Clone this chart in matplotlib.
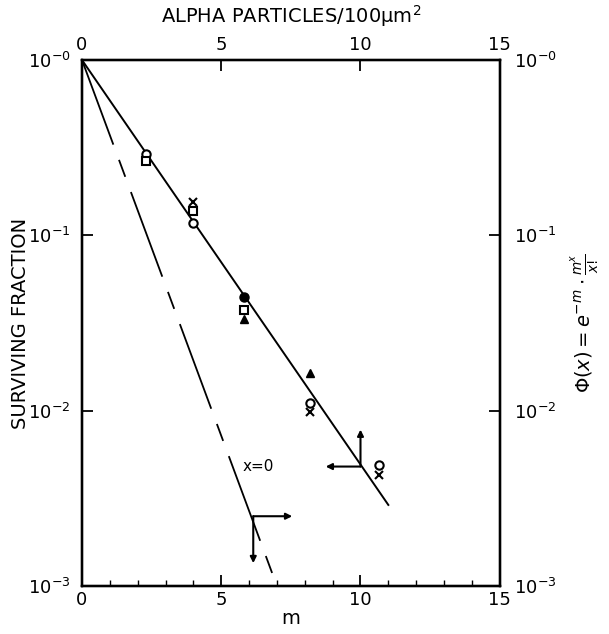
import matplotlib.pyplot as plt
from matplotlib.ticker import FixedLocator, MultipleLocator, NullLocator

# measured survival points, grouped by marker type
circle_m = [2.3, 4.0, 8.2, 10.65]
circle_y = [0.29, 0.117, 0.0110, 0.0049]
square_m = [2.3, 4.0, 5.8]
square_y = [0.265, 0.138, 0.0375]
triangle_m = [5.8, 8.2]
triangle_y = [0.0333, 0.0164]
cross_m = [4.0, 8.2, 10.65]
cross_y = [0.155, 0.0098, 0.0043]
dot_m = [5.8]
dot_y = [0.0445]

# fitted line and x=0 poisson line
fit_m = [0.0, 11.0]
fit_y = [1.0, 0.0029]
pois_m = [0.0, 7.0]
pois_y = [1.0, 0.0010]

# arrow pairs: (start, tip)
arrows = [
    ((10.0, 0.0048), (10.0, 0.0078)),
    ((10.0, 0.0048), (8.75, 0.0048)),
    ((6.15, 0.0025), (7.55, 0.0025)),
    ((6.15, 0.0025), (6.15, 0.00135)),
]

xticks = [0, 5, 10, 15]
yticks = [1, 0.1, 0.01, 0.001]
ytick_labels = ['$10^{-0}$', '$10^{-1}$', '$10^{-2}$', '$10^{-3}$']

fig = plt.figure(figsize=(6.09, 6.34), dpi=100)
ax = fig.add_axes([0.1346, 0.0757, 0.686, 0.8297])

ax.plot(fit_m, fit_y, color='black', lw=1.4, zorder=2)
ax.plot(pois_m, pois_y, color='black', lw=1.3, ls=(0, (50, 9, 10, 9)), zorder=2)

mk = dict(color='black', ls='none', zorder=3)
ax.plot(circle_m, circle_y, marker='o', ms=6, mfc='white', mew=1.5, **mk)
ax.plot(square_m, square_y, marker='s', ms=5.5, mfc='white', mew=1.5, **mk)
ax.plot(triangle_m, triangle_y, marker='^', ms=5.5, **mk)
ax.plot(cross_m, cross_y, marker='x', ms=6, mew=1.5, **mk)
ax.plot(dot_m, dot_y, marker='o', ms=6.5, **mk)

for start, tip in arrows:
    ax.annotate('', xy=tip, xytext=start,
                arrowprops=dict(arrowstyle='-|>', color='black', lw=1.5,
                                mutation_scale=9, shrinkA=0, shrinkB=0))

ax.text(5.75, 0.0048, 'x=0', fontsize=11, va='center', ha='left')

ax.set_yscale('log')
ax.set_xlim(0, 15)
ax.set_ylim(0.001, 1)
ax.xaxis.set_major_locator(FixedLocator(xticks))
ax.xaxis.set_minor_locator(MultipleLocator(1))
ax.yaxis.set_major_locator(FixedLocator(yticks))
ax.yaxis.set_minor_locator(NullLocator())
ax.set_yticklabels(ytick_labels)
ax.tick_params(which='major', direction='in', length=8, width=1.3, labelsize=13,
               right=False, top=False)
ax.tick_params(axis='y', pad=8)
ax.tick_params(which='minor', direction='in', length=4, width=1.0)
ax.set_xlabel('m', fontsize=14, labelpad=0)
ax.set_ylabel('SURVIVING FRACTION', fontsize=14)
ax.yaxis.set_label_coords(-0.125, 0.5)

top = ax.twiny()
top.set_xlim(0, 15)
top.xaxis.set_major_locator(FixedLocator(xticks))
top.tick_params(direction='in', length=8, width=1.3, labelsize=13, pad=4)
top.set_xlabel('ALPHA PARTICLES/100\u03bcm$^2$', fontsize=14, labelpad=10)

right = ax.twinx()
right.set_yscale('log')
right.set_ylim(0.001, 1)
right.yaxis.set_major_locator(FixedLocator(yticks))
right.yaxis.set_minor_locator(NullLocator())
right.set_yticklabels(ytick_labels)
right.tick_params(direction='in', length=8, width=1.3, labelsize=13, pad=10)
right.set_ylabel(r'$\Phi(x)=e^{-m}\cdot\frac{m^{x}}{x!}$', fontsize=14)
right.yaxis.set_label_coords(1.165, 0.5)

for a in (ax, top, right):
    for s in a.spines.values():
        s.set_linewidth(1.6)

fig.savefig('out.png', dpi=100)
